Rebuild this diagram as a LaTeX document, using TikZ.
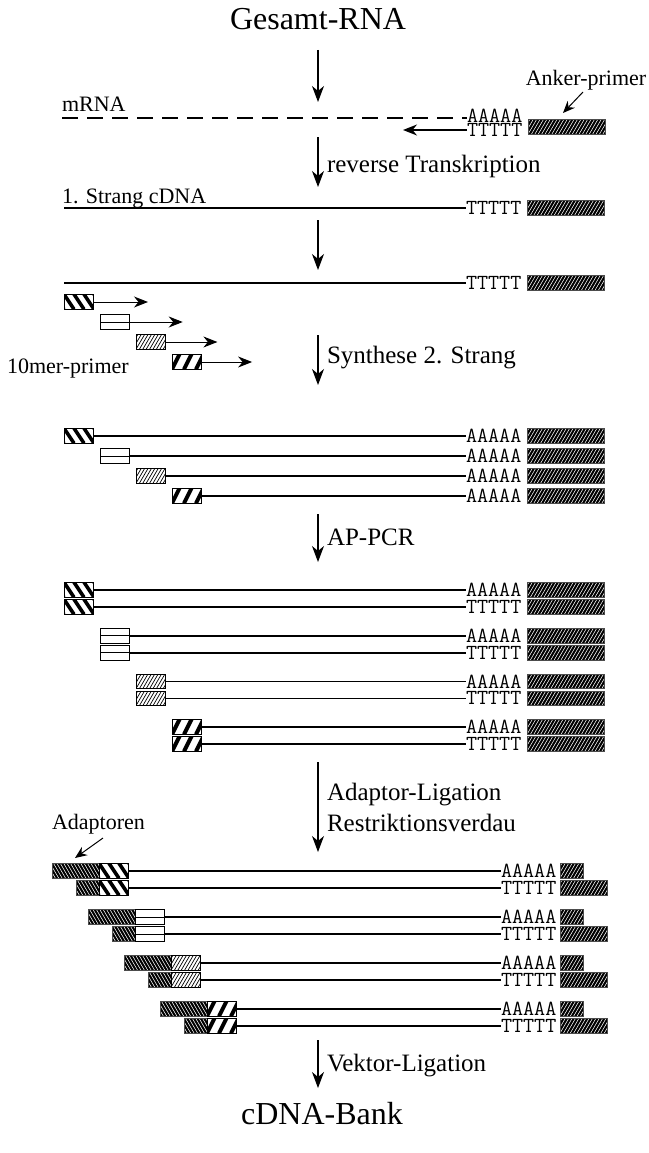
\documentclass[tikz,border=0pt]{standalone}
\usepackage{fontspec}
\setmainfont{Liberation Serif}
\usetikzlibrary{arrows.meta}
\tikzset{
  hatch/.style n args={5}{path picture={%
    \foreach \k in {-12,...,40}{%
      \draw[#1,line width=#2pt] ([xshift={\k*#3}]path picture bounding box.south west) -- ++(#4pt,#5pt);}}},
}
\newcommand\pcrrow[5]{%
  \node[#3] (#1p) at (#4,#2) {};
  \node[seq] (#1s) at (466,#2) {#5};
  \node[rbox=77pt] (#1b) at (527,#2) {};
  \draw[strand] (#1p.east) -- (#1s.west);
}
\newcommand\adrow[7]{%
  \node[#3] (#1a) at (#4,#2) {};
  \node[#5,anchor=west] (#1p) at (#1a.east) {};
  \node[seq] (#1s) at (501,#2) {#6};
  \node[#7] (#1b) at (560,#2) {};
  \draw[strand] (#1p.east) -- (#1s.west);
}
\begin{document}
\begin{tikzpicture}[x=1pt,y=-1pt,
  every node/.style={inner sep=0pt,outer sep=0pt},
  flow/.style={line width=1.1pt,-{Stealth[length=16pt,width=12pt,inset=5pt]}},
  ptr/.style={line width=1pt,-{Stealth[length=14pt,width=11pt,inset=4.5pt]}},
  thinptr/.style={line width=1pt,-{Stealth[length=12pt,width=10pt,inset=4pt]}},
  strand/.style={line width=1.8pt},
  mrnaline/.style={line width=1.2pt,dash pattern=on 16pt off 9pt},
  biglab/.style={font=\fontsize{32}{36}\selectfont,anchor=base},
  steplab/.style={font=\fontsize{25}{29}\selectfont,anchor=base west},
  sidelab/.style={font=\fontsize{22}{25}\selectfont,anchor=base west},
  seq/.style={font=\fontsize{21.5}{21.5}\ttfamily,anchor=west},
  boxbase/.style={rectangle,draw=black,line width=0.8pt,anchor=west,minimum height=14.5pt},
  rbox/.style={boxbase,fill=black,draw=black!70,minimum width=#1,hatch={white}{0.55}{3.4}{14}{24}},
  adbox/.style={boxbase,fill=black,draw=black!70,minimum width=#1,hatch={white}{0.55}{3.4}{-14}{24}},
  primerA/.style={boxbase,fill=white,minimum width=29pt,hatch={black}{3.6}{10}{-16}{24}},
  primerB/.style={boxbase,fill=white,minimum width=29pt,path picture={\draw[line width=1pt] (path picture bounding box.west) -- (path picture bounding box.east);}},
  primerC/.style={boxbase,fill=white,minimum width=29pt,hatch={black}{0.7}{3.4}{14}{24}},
  primerD/.style={boxbase,fill=white,minimum width=29pt,hatch={black}{4}{12}{12}{24}},
]
\useasboundingbox (0,0) rectangle (648,1153);

% title and mRNA
\node[biglab] (title) at (318,30) {Gesamt-RNA};
\coordinate (f1a) at (318,50); \coordinate (f1b) at (318,102);
\draw[flow] (f1a) -- (f1b);
\node[sidelab] (mrna) at (62,112) {mRNA};
\node[font=\fontsize{22}{25}\selectfont,anchor=base] (anker) at (586,86) {Anker-primer};
\node[seq] (mA) at (467,115.5) {AAAAA};
\node[seq] (mT) at (467,130) {TTTTT};
\node[rbox=77pt] (mB) at (528,127) {};
\coordinate (m0) at (62,118);
\draw[mrnaline] (m0) -- (m0 -| mA.west);
\coordinate (rt) at (403,130);
\draw[ptr,line width=1.4pt] (mT.west) -- (rt);
\coordinate (ak) at (563,113);
\draw[thinptr] ([xshift=-3pt,yshift=-6pt]anker.base) -- (ak);

% reverse transcription
\coordinate (f2a) at (318,137); \coordinate (f2b) at (318,187);
\draw[flow] (f2a) -- (f2b);
\node[steplab] (rtlab) at (327,172) {reverse Transkription};
\node[sidelab] (s1lab) at (62,203) {1. Strang cDNA};
\coordinate (c0) at (64,208);
\node[seq] (cT) at (466,208) {TTTTT};
\node[rbox=77pt] (cB) at (527,208) {};
\draw[strand] (c0) -- (cT.west);

\coordinate (f3a) at (318,220); \coordinate (f3b) at (318,270);
\draw[flow] (f3a) -- (f3b);
\coordinate (c1) at (64,283);
\node[seq] (dT) at (466,283) {TTTTT};
\node[rbox=77pt] (dB) at (527,283) {};
\draw[strand] (c1) -- (dT.west);

% primers
\foreach \i/\st in {0/primerA,1/primerB,2/primerC,3/primerD}{
  \node[\st] (pr\i) at (64+36*\i,302+20*\i) {};
  \coordinate (pe\i) at (148+34.7*\i,302+20*\i);
  \draw[ptr] (pr\i.east) -- (pe\i);
}
\node[sidelab] (tenmer) at (7,373) {10mer-primer};

% second strand
\coordinate (f4a) at (318,335); \coordinate (f4b) at (318,385);
\draw[flow] (f4a) -- (f4b);
\node[steplab] (synlab) at (327,363) {Synthese 2. Strang};
\foreach \i/\st in {0/primerA,1/primerB,2/primerC,3/primerD}{
  \pcrrow{s\i}{436+20*\i}{\st}{64+36*\i}{AAAAA}
}

% AP-PCR
\coordinate (f5a) at (318,514); \coordinate (f5b) at (318,562);
\draw[flow] (f5a) -- (f5b);
\node[steplab] (pcrlab) at (327,545) {AP-PCR};
\foreach \i/\st in {0/primerA,1/primerB,2/primerC,3/primerD}{
  \pcrrow{pa\i}{590+45.7*\i}{\st}{64+36*\i}{AAAAA}
  \pcrrow{pt\i}{607+45.7*\i}{\st}{64+36*\i}{TTTTT}
}

% adaptor ligation
\coordinate (f6a) at (318,762); \coordinate (f6b) at (318,852);
\draw[flow] (f6a) -- (f6b);
\node[steplab] (adlab1) at (327,800) {Adaptor-Ligation};
\node[steplab] (adlab2) at (327,831) {Restriktionsverdau};
\node[sidelab] (adapt) at (52,829) {Adaptoren};
\coordinate (ad1) at (103,838); \coordinate (ad2) at (75,858);
\draw[thinptr] (ad1) -- (ad2);
\foreach \i/\st in {0/primerA,1/primerB,2/primerC,3/primerD}{
  \adrow{aa\i}{871+46*\i}{adbox=47pt}{52+36*\i}{\st}{AAAAA}{rbox=23pt}
  \adrow{at\i}{888+46*\i}{adbox=23pt}{76+36*\i}{\st}{TTTTT}{rbox=47pt}
}

% vector ligation
\coordinate (f7a) at (318,1040); \coordinate (f7b) at (318,1088);
\draw[flow] (f7a) -- (f7b);
\node[steplab] (veklab) at (327,1071) {Vektor-Ligation};
\node[biglab] (bank) at (322,1124) {cDNA-Bank};
\end{tikzpicture}
\end{document}
